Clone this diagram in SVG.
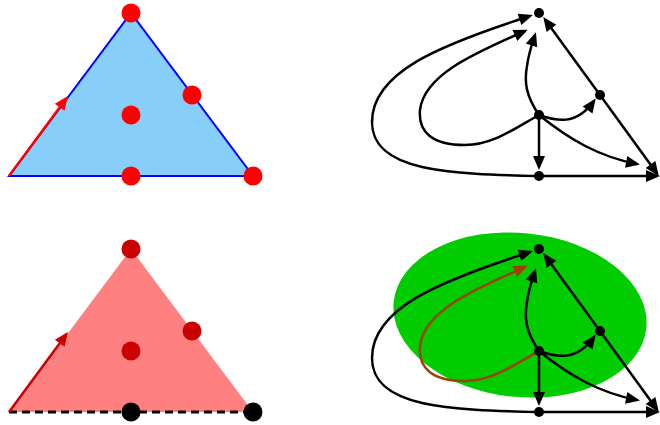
<svg xmlns="http://www.w3.org/2000/svg" width="660" height="425" viewBox="0 0 660 425">
<style>
.edge{fill:none;stroke:#000;stroke-width:2.5}
.node{fill:#000}
.reddot{fill:#FF0000}
.dkdot{fill:#CC0000}
.blkdot{fill:#000}
</style>
<defs>
<marker id="ah" markerUnits="userSpaceOnUse" markerWidth="18" markerHeight="14" viewBox="-12 -7 18 14" refX="0" refY="0" orient="auto">
<path d="M3,0 L-11,-6 L-11,6 Z" fill="#000"/>
</marker>
<marker id="ahbrown" markerUnits="userSpaceOnUse" markerWidth="18" markerHeight="14" viewBox="-12 -7 18 14" refX="0" refY="0" orient="auto">
<path d="M3,0 L-11,-6 L-11,6 Z" fill="#A04000"/>
</marker>
<marker id="ahred" markerUnits="userSpaceOnUse" markerWidth="18" markerHeight="14" viewBox="-12 -7 18 14" refX="0" refY="0" orient="auto">
<path d="M3,0 L-11,-6 L-11,6 Z" fill="#FF0000"/>
</marker>
<marker id="ahdkred" markerUnits="userSpaceOnUse" markerWidth="18" markerHeight="14" viewBox="-12 -7 18 14" refX="0" refY="0" orient="auto">
<path d="M3,0 L-11,-6 L-11,6 Z" fill="#CC0000"/>
</marker>
</defs>

<!-- Top-left triangle -->
<g id="triangle-blue">
<path d="M9,176 L131,13 L253,176 Z" fill="#87CEFA" stroke="#0000FF" stroke-width="2"/>
<line x1="9" y1="176" x2="66.2" y2="98.4" stroke="#FF0000" stroke-width="2.5" marker-end="url(#ahred)"/>
<circle class="reddot" cx="131" cy="13" r="9.5"/>
<circle class="reddot" cx="192" cy="95" r="9.5"/>
<circle class="reddot" cx="131" cy="115" r="9.5"/>
<circle class="reddot" cx="131" cy="176" r="9.5"/>
<circle class="reddot" cx="253" cy="176" r="9.5"/>
</g>

<!-- Bottom-left triangle -->
<g id="triangle-red">
<path d="M9,412 L131,249 L253,412 Z" fill="#FF8080"/>
<line x1="9" y1="412" x2="253" y2="412" stroke="#000" stroke-width="3" stroke-dasharray="8,5"/>
<line x1="9" y1="412" x2="66.2" y2="334.4" stroke="#CC0000" stroke-width="2.5" marker-end="url(#ahdkred)"/>
<circle class="dkdot" cx="131" cy="249" r="9.5"/>
<circle class="dkdot" cx="192" cy="331" r="9.5"/>
<circle class="dkdot" cx="131" cy="351" r="9.5"/>
<circle class="blkdot" cx="131" cy="412" r="9.5"/>
<circle class="blkdot" cx="253" cy="412" r="9.5"/>
</g>

<!-- Green region for bottom graph -->
<ellipse id="region" cx="520" cy="315" rx="127" ry="82" transform="rotate(6 520 315)" fill="#00CC00"/>

<!-- Top graph connectors -->
<g id="edges-top">
<path class="edge" d="M539,176 C450,174 372,172 372,122 C372,72 440,45 530,16" marker-end="url(#ah)"/>
<path class="edge" d="M539,115 C512,130 492,145 465,145 C432,145 418,132 420,110 C424,76 470,55 525,31" marker-end="url(#ah)"/>
<path class="edge" d="M539,115 C526,96 524,82 527,66 C529,52 532,44 535,35" marker-end="url(#ah)"/>
<line class="edge" x1="600" y1="95" x2="545" y2="19.5" marker-end="url(#ah)"/>
<path class="edge" d="M539,115 C556,121 576,126 594,101" marker-end="url(#ah)"/>
<line class="edge" x1="539" y1="115" x2="539" y2="167" marker-end="url(#ah)"/>
<path class="edge" d="M539,115 C570,140 600,157 637,164" marker-end="url(#ah)"/>
<line class="edge" x1="600" y1="95" x2="657" y2="173.5" marker-end="url(#ah)"/>
<line class="edge" x1="539" y1="176" x2="657" y2="176" marker-end="url(#ah)"/>
</g>
<g id="top-A"><circle class="node" cx="539" cy="13" r="5"/></g>
<g id="top-B"><circle class="node" cx="600" cy="95" r="5"/></g>
<g id="top-C"><circle class="node" cx="539" cy="115" r="5"/></g>
<g id="top-D"><circle class="node" cx="539" cy="176" r="5"/></g>

<!-- Bottom graph connectors -->
<g id="edges-bottom" transform="translate(0,236)">
<path class="edge" d="M539,176 C450,174 372,172 372,122 C372,72 440,45 530,16" marker-end="url(#ah)"/>
<path d="M539,115 C512,130 492,145 465,145 C432,145 418,132 420,110 C424,76 470,55 525,31" fill="none" stroke="#A04000" stroke-width="2.5" marker-end="url(#ahbrown)"/>
<path class="edge" d="M539,115 C526,96 524,82 527,66 C529,52 532,44 535,35" marker-end="url(#ah)"/>
<line class="edge" x1="600" y1="95" x2="545" y2="19.5" marker-end="url(#ah)"/>
<path class="edge" d="M539,115 C556,121 576,126 594,101" marker-end="url(#ah)"/>
<line class="edge" x1="539" y1="115" x2="539" y2="167" marker-end="url(#ah)"/>
<path class="edge" d="M539,115 C570,140 600,157 637,164" marker-end="url(#ah)"/>
<line class="edge" x1="600" y1="95" x2="657" y2="173.5" marker-end="url(#ah)"/>
<line class="edge" x1="539" y1="176" x2="657" y2="176" marker-end="url(#ah)"/>
</g>
<g id="bottom-A"><circle class="node" cx="539" cy="249" r="5"/></g>
<g id="bottom-B"><circle class="node" cx="600" cy="331" r="5"/></g>
<g id="bottom-C"><circle class="node" cx="539" cy="351" r="5"/></g>
<g id="bottom-D"><circle class="node" cx="539" cy="412" r="5"/></g>
</svg>
